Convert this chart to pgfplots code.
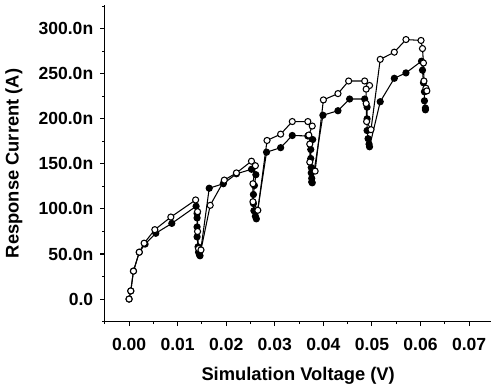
\documentclass[border=0pt]{standalone}
\usepackage{pgfplots}
\pgfplotsset{compat=1.18}
\usepackage{fontspec}
\setmainfont{Liberation Sans}
\begin{document}
\fontsize{12}{14}\selectfont
\begin{tikzpicture}
\begin{axis}[
  scale only axis,
  width=291pt, height=238pt,
  xmin=-0.005, xmax=0.0746,
  ymin=-25, ymax=326,
  axis x line=bottom, axis y line=left,
  axis line style={-, line width=0.8pt},
  tick align=outside,
  major tick length=3.5pt, minor tick length=2pt,
  tick style={line width=0.8pt, black},
  xtick={0,0.01,0.02,0.03,0.04,0.05,0.06,0.07},
  xticklabels={0.00,0.01,0.02,0.03,0.04,0.05,0.06,0.07},
  minor xtick={-0.005,0.005,0.015,0.025,0.035,0.045,0.055,0.065},
  ytick={0,50,100,150,200,250,300},
  yticklabels={0.0,50.0n,100.0n,150.0n,200.0n,250.0n,300.0n},
  minor ytick={-25,25,75,125,175,225,275,325},
  scaled x ticks=false,
  ticklabel style={font=\fontsize{13.2}{15}\selectfont\bfseries},
  xticklabel style={yshift=-5pt},
  yticklabel style={xshift=-1pt},
  xlabel={Simulation Voltage (V)},
  ylabel={Response Current (A)},
  label style={font=\fontsize{13.8}{16}\selectfont\bfseries},
  xlabel style={yshift=-4pt},
  ylabel style={yshift=4pt},
  clip=false,
]
\addplot[black, line width=0.8pt, mark=*, mark size=2.3pt, mark options={fill=black, draw=black}] coordinates {
(0,0) (0.00035,9) (0.0009,31) (0.0021,52) (0.0033,61) (0.0055,73) (0.0088,84)
(0.0138,103) (0.0140,95) (0.0140,90) (0.0140,80) (0.0140,69) (0.0142,58) (0.0143,52) (0.0145,49) (0.0146,48)
(0.0165,123) (0.0194,128) (0.0221,139) (0.0252,144) (0.0261,138) (0.0258,126) (0.0256,116) (0.0256,106) (0.0257,98) (0.0260,92) (0.0262,89)
(0.0283,163) (0.0312,168) (0.0336,181.5) (0.0368,181) (0.0378,177) (0.0374,166) (0.0374,156) (0.0375,146) (0.0375,140) (0.0376,134) (0.0376,130) (0.0377,129)
(0.0399,204) (0.0430,209) (0.0454,222) (0.0485,222) (0.0490,213) (0.0490,200) (0.0490,187) (0.0492,178) (0.0494,172) (0.0495,169)
(0.0517,219) (0.0546,245) (0.0570,251) (0.0602,264) (0.0604,254) (0.0606,240) (0.0608,230) (0.0608,220) (0.0610,212) (0.0610,210)
};
\addplot[black, line width=0.8pt, mark=*, mark size=2.3pt, mark options={fill=white, draw=black}] coordinates {
(0,0) (0.00035,9) (0.0009,31) (0.0021,52) (0.0031,62) (0.0053,77) (0.0086,91)
(0.0137,110) (0.0141,97) (0.0141,75) (0.0143,56) (0.0148,54.5)
(0.0167,104) (0.0196,132) (0.0221,140) (0.0252,153) (0.0260,148) (0.0255,128) (0.0255,108) (0.0265,98.5)
(0.0284,176) (0.0312,183) (0.0336,197) (0.0368,197) (0.0377,192) (0.0370,182) (0.0372,172) (0.0372,152) (0.0383,142)
(0.0400,221) (0.0430,228) (0.0452,242) (0.0485,242) (0.0495,237) (0.0488,233) (0.0488,217) (0.0489,197) (0.0498,188)
(0.0517,266) (0.0546,274) (0.0570,288) (0.0601,287) (0.0604,278) (0.0606,262) (0.0607,242) (0.0611,234) (0.0613,231)
};
\coordinate (topleft) at (rel axis cs:0,1);
\end{axis}
\path ([yshift=4pt]topleft);
\end{tikzpicture}
\end{document}
